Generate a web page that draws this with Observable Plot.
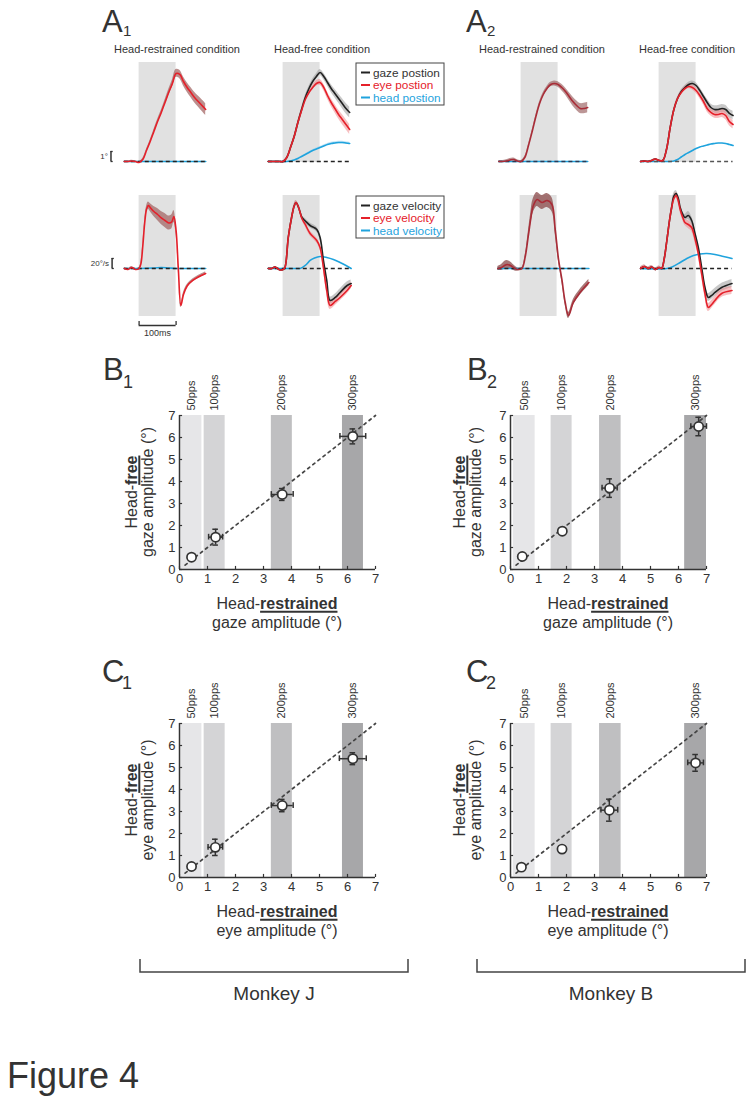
<!DOCTYPE html>
<html><head><meta charset="utf-8">
<script src="https://cdn.jsdelivr.net/npm/d3@7"></script>
<script src="https://cdn.jsdelivr.net/npm/@observablehq/plot@0.6"></script>
<style>
body{margin:0;background:#fff;}
#fig{position:relative;width:752px;height:1103px;overflow:hidden;background:#fff;}
svg{overflow:visible;}
</style></head>
<body><div id="fig"></div>
<script>
// ================= DATA =================
const stimWindow = [0, 100];                 // ms, stimulation train
// time grids (ms re. stimulation onset)
const tJ  = [-40,-30,-20,-10,0,10,20,30,40,50,60,70,80,90,100,110,120,130,140,150,160,170,180];
const tBR = [-60,-50,-40,-30,-20,-10,0,10,20,30,40,50,60,70,80,90,100,110,120,130,140,150,160,170,180];
const tBF = [-50,-40,-30,-20,-10,0,10,20,30,40,50,60,70,80,90,100,110,120,130,140,150,160,170,180,190,200];

// ---- Monkey J position (deg) ----
const posJR_eye  = [0,0,0.05,0,-0.1,0.2,1.1,2.0,3.0,4.0,4.9,5.9,6.9,7.8,8.8,8.7,8.0,7.4,6.9,6.4,6.0,5.6,5.2];
const posJR_sem  = [0.08,0.08,0.08,0.08,0.08,0.1,0.12,0.15,0.18,0.2,0.22,0.25,0.3,0.35,0.4,0.42,0.45,0.48,0.5,0.52,0.55,0.58,0.6];
const posJR_head = [0,0,0,0,0,0,0,0,0,0,0,0,0,0,0,0,0,0,0,0,0,0,0];
const posJF_gaze = [0,0,0,0,0,0.4,1.4,2.5,3.9,5.2,6.4,7.3,8.0,8.5,8.9,8.5,7.9,7.3,6.8,6.3,5.8,5.3,4.9];
const posJF_gsem = [0.05,0.05,0.05,0.05,0.05,0.08,0.1,0.12,0.15,0.18,0.2,0.22,0.25,0.28,0.3,0.33,0.36,0.4,0.43,0.46,0.5,0.53,0.55];
const posJF_eye  = [0,0,0,0,0,0.4,1.4,2.5,3.9,5.1,6.2,6.9,7.4,7.8,7.9,7.4,6.6,5.9,5.3,4.7,4.2,3.7,3.2];
const posJF_esem = [0.05,0.05,0.05,0.05,0.05,0.08,0.1,0.12,0.15,0.18,0.2,0.22,0.25,0.28,0.3,0.33,0.36,0.4,0.43,0.46,0.5,0.5,0.5];
const posJF_head = [0,0,0,0,0,0,0.05,0.15,0.3,0.5,0.7,0.9,1.1,1.25,1.4,1.55,1.7,1.8,1.85,1.9,1.9,1.85,1.8];
const posJF_hsem = [0,0,0,0,0,0,0.02,0.03,0.04,0.05,0.06,0.07,0.08,0.09,0.1,0.1,0.11,0.12,0.12,0.12,0.12,0.12,0.12];

// ---- Monkey B position (deg) ----
const posBR_gaze = [0,0,0.05,0.15,0.2,0.05,0,0.4,1.6,3.0,4.5,5.8,6.7,7.3,7.7,7.8,7.7,7.4,7.0,6.5,6.0,5.6,5.3,5.3,5.4];
const posBR_sem  = [0.1,0.1,0.12,0.15,0.15,0.12,0.1,0.1,0.12,0.15,0.15,0.18,0.2,0.2,0.22,0.25,0.28,0.32,0.36,0.4,0.44,0.48,0.5,0.52,0.52];
const posBR_head = [0,0,0,0,0,0,0,0,0,0,0,0,0,0,0,0,0,0,0,0,0,0,0,0,0];
const posBF_gaze = [0,0.05,0,0.1,0.25,0.1,0.1,1.2,3.4,5.2,6.3,7.0,7.4,7.7,7.8,7.6,7.1,6.5,5.9,5.4,5.2,5.2,5.3,5.2,4.8,4.6];
const posBF_gsem = [0.05,0.05,0.05,0.05,0.05,0.05,0.05,0.08,0.1,0.12,0.15,0.18,0.2,0.22,0.25,0.28,0.3,0.32,0.34,0.36,0.38,0.4,0.4,0.42,0.42,0.42];
const posBF_eye  = [0,0.05,0,0.1,0.25,0.1,0.1,1.2,3.4,5.2,6.3,6.9,7.3,7.5,7.4,7.1,6.6,6.0,5.3,4.9,4.7,4.7,4.8,4.6,4.0,3.7];
const posBF_esem = [0.05,0.05,0.05,0.05,0.05,0.05,0.05,0.08,0.1,0.12,0.15,0.18,0.2,0.22,0.25,0.28,0.3,0.32,0.34,0.36,0.38,0.4,0.4,0.42,0.42,0.42];
const posBF_head = [0,0,0,0,0,0,0,0,0,0.05,0.2,0.45,0.7,0.9,1.1,1.3,1.45,1.55,1.65,1.75,1.8,1.85,1.85,1.8,1.7,1.6];

// ---- Monkey J velocity (deg/s) ----
const velJR_t    = [-40,-30,-20,-10,0,5,10,15,20,25,30,40,50,60,70,80,88,94,100,106,113,120,130,145,160,180];
const velJR_eye  = [0,-2,2,-2,0,10,45,90,118,126,122,114,108,101,96,91,93,104,76,0,-74,-52,-35,-24,-17,-10];
const velJR_sem  = [2,2,2,2,2,3,4,5,6,7,8,10,12,13,14,14,14,12,8,4,4,4,3,3,3,3];
const velJR_ht   = [-40,0,40,60,80,100,140,180];
const velJR_head = [0,0,1,2,1,0,0,0];
const velJF_t    = [-40,-30,-22,-15,-8,0,5,14,23,30,35,42,51,60,73,91,100,109,118,127,141,154,173,184];
const velJF_gaze = [0,0,3,0,-3,-2,2,62,102,125,132,122,102,95,86,78,62,16,-24,-64,-58,-48,-34,-30];
const velJF_gsem = [1,1,1,1,1,1,1,2,3,4,4,4,4,5,5,5,5,5,6,7,7,7,7,7];
const velJF_eye  = [0,0,3,0,-3,-2,2,62,102,125,132,122,100,88,70,56,42,2,-44,-74,-66,-58,-44,-34];
const velJF_esem = [1,1,1,1,1,1,1,2,3,4,4,4,4,5,5,5,5,5,7,8,8,7,7,7];
const velJF_ht   = [-40,40,46,60,73,85,100,118,136,154,170,184];
const velJF_head = [0,0,0,6,16,21,24,22,18,12,6,0];

// ---- Monkey B velocity (deg/s) ----
const velBR_t    = [-60,-50,-42,-35,-26,-14,-5,5,14,22,29,35,46,59,73,86,95,104,113,122,131,144,162,186];
const velBR_gaze = [0,2,6,8,6,0,-2,0,24,64,100,124,138,132,136,128,78,18,-22,-68,-94,-68,-48,-28];
const velBR_sem  = [4,6,8,8,7,5,3,2,4,8,12,14,14,14,14,14,10,6,6,6,6,6,6,6];
const velBR_ht   = [-60,186];
const velBR_head = [0,0];
const velBF_t    = [-50,-40,-30,-20,-10,0,7,14,21,28,34,40,46,52,57,64,70,79,88,97,106,115,124,133,142,151,169,197];
const velBF_gaze = [0,4,0,3,-2,2,0,20,56,95,122,145,150,140,122,108,102,106,96,70,42,2,-38,-58,-54,-48,-38,-30];
const velBF_gsem = [3,3,3,3,3,3,2,2,3,4,5,6,6,6,6,6,6,8,8,8,8,8,8,8,8,8,8,8];
const velBF_eye  = [0,4,0,3,-2,2,0,20,56,95,122,140,146,135,118,102,92,88,82,60,30,-10,-50,-78,-72,-64,-50,-44];
const velBF_esem = [3,3,3,3,3,3,2,2,3,4,5,6,6,6,6,6,6,8,8,8,8,8,8,8,8,8,8,8];
const velBF_ht   = [-50,21,35,57,75,93,110,129,151,174,197];
const velBF_head = [0,0,3,12,20,26,29,30,28,24,20];

// scale bars
const posScaleBar = {t: -76, size: 1, label: "1°"};
const velScaleBar = {t: -73, size: 20, label: "20°/s"};
const timeScaleBar = {t0: 0, t1: 100, v: -114, label: "100ms"};

// ---- amplitude scatter panels ----
const axisTicks = [0,1,2,3,4,5,6,7];
const ppsLabels = ["50pps","100pps","200pps","300pps"];
const ppsFill   = ["#e6e6e8","#d4d4d6","#bfbfc1","#a7a7a9"];
const bandJ_x1 = [0.05,0.88,3.28,5.82], bandJ_x2 = [0.80,1.63,4.03,6.57];
const bandB_x1 = [0.10,1.45,3.18,6.22], bandB_x2 = [0.88,2.20,3.95,7.00];
const unityLine = [0.2, 7];
// B1: gaze, monkey J
const gazeJ_rx = [0.43,1.29,3.67,6.19], gazeJ_fy = [0.56,1.47,3.41,6.05];
const gazeJ_rxe = [0,0.25,0.39,0.46],   gazeJ_fye = [0,0.36,0.27,0.34];
// B2: gaze, monkey B
const gazeB_rx = [0.42,1.85,3.54,6.72], gazeB_fy = [0.59,1.74,3.70,6.50];
const gazeB_rxe = [0,0.10,0.27,0.28],   gazeB_fye = [0,0.08,0.42,0.42];
// C1: eye, monkey J
const eyeJ_rx = [0.43,1.28,3.67,6.19],  eyeJ_fy = [0.50,1.37,3.27,5.40];
const eyeJ_rxe = [0,0.26,0.39,0.48],    eyeJ_fye = [0,0.37,0.28,0.27];
// C2: eye, monkey B
const eyeB_rx = [0.39,1.84,3.53,6.61],  eyeB_fy = [0.47,1.29,3.06,5.21];
const eyeB_rxe = [0,0.08,0.30,0.28],    eyeB_fye = [0,0.08,0.50,0.38];

// ================= DRAWING =================
const FONT = '"Liberation Sans", Arial, Helvetica, sans-serif';
const TXT = "#333";
const C_GAZE = "#222", C_EYE = "#e5202a", C_HEAD = "#1fa3dd";
const fig = document.getElementById("fig");
function place(node, left, top) {
  const d = document.createElement("div");
  d.style.position = "absolute"; d.style.left = left + "px"; d.style.top = top + "px";
  d.appendChild(node); fig.appendChild(d);
}

const MS_PX = 0.37, T_DOM = [-80, 205];
const POS = {dom: [-1.5, 10.5], k: 10, box: [-0.1, 9.9]};
const VEL = {dom: [-140, 160], k: 0.5, box: [-96, 146]};

function zip(t, v, s) { return t.map((x, i) => ({t: x, v: v[i], e: s ? s[i] : 0})); }

function tracePanel({gx, base, kind, series, head, dashColor = "#222", extra = []}) {
  const cfg = kind === "pos" ? POS : VEL;
  const w = (T_DOM[1] - T_DOM[0]) * MS_PX, h = (cfg.dom[1] - cfg.dom[0]) * cfg.k;
  const marks = [Plot.rect([{t0: stimWindow[0], t1: stimWindow[1]}], {x1: "t0", x2: "t1", y1: cfg.box[0], y2: cfg.box[1], fill: "#e1e1e1"})];
  const all = [...series, head];
  for (const s of all) if (s.sem) {
    marks.push(Plot.areaY(zip(s.t, s.v, s.sem), {x: "t", y1: d => d.v - d.e, y2: d => d.v + d.e, curve: "catmull-rom", fill: s.band, fillOpacity: s.bandOpacity ?? 0.55}));
  }
  marks.push(Plot.line(zip(head.t, head.v), {x: "t", y: "v", curve: "catmull-rom", stroke: head.stroke, strokeWidth: 1.6}));
  const t0 = series[0].t[0], t1 = series[0].t[series[0].t.length - 1];
  marks.push(Plot.ruleY([0], {x1: t0, x2: t1, stroke: dashColor, strokeWidth: 1.4, strokeDasharray: "4,3"}));
  for (const s of series) marks.push(Plot.line(zip(s.t, s.v), {x: "t", y: "v", curve: "catmull-rom", stroke: s.stroke, strokeWidth: 1.6}));
  marks.push(...extra);
  const p = Plot.plot({
    width: w, height: h, margin: 0,
    x: {domain: T_DOM, axis: null}, y: {domain: cfg.dom, axis: null},
    style: {fontFamily: FONT, color: TXT, background: "none", overflow: "visible"},
    marks
  });
  place(p, gx + T_DOM[0] * MS_PX, base - cfg.dom[1] * cfg.k);
}

function bracketMarks(sb) {
  return [
    Plot.ruleX([sb], {x: "t", y1: 0, y2: "size", stroke: "#333", strokeWidth: 1.5}),
    Plot.ruleY([0, sb.size], {x1: sb.t, x2: sb.t + 6, y: d => d, stroke: "#333", strokeWidth: 1.3}),
    Plot.text([sb], {x: "t", y: d => d.size / 2, text: "label", textAnchor: "end", dx: -3, fontSize: 8, fill: TXT})
  ];
}
const timeBarMarks = [
  Plot.ruleY([timeScaleBar], {x1: "t0", x2: "t1", y: "v", stroke: "#333", strokeWidth: 1.4}),
  Plot.ruleX([timeScaleBar.t0, timeScaleBar.t1], {x: d => d, y1: timeScaleBar.v, y2: timeScaleBar.v + 8, stroke: "#333", strokeWidth: 1.3}),
  Plot.text([timeScaleBar], {x: d => (d.t0 + d.t1) / 2, y: "v", text: "label", lineAnchor: "top", dy: 4, fontSize: 9, fill: TXT})
];

// ---- Monkey J traces ----
tracePanel({gx: 139, base: 161, kind: "pos",
  series: [{t: tJ, v: posJR_eye, sem: posJR_sem, stroke: C_EYE, band: "#a0605e", bandOpacity: 0.7}],
  head: {t: tJ, v: posJR_head, stroke: C_HEAD}, extra: bracketMarks(posScaleBar)});
tracePanel({gx: 283, base: 161, kind: "pos",
  series: [{t: tJ, v: posJF_gaze, sem: posJF_gsem, stroke: C_GAZE, band: "#9a9a9a"},
           {t: tJ, v: posJF_eye, sem: posJF_esem, stroke: C_EYE, band: "#f08a8e"}],
  head: {t: tJ, v: posJF_head, sem: posJF_hsem, stroke: C_HEAD, band: "#8fd0f0"}});
tracePanel({gx: 139, base: 268, kind: "vel",
  series: [{t: velJR_t, v: velJR_eye, sem: velJR_sem, stroke: C_EYE, band: "#a0605e", bandOpacity: 0.7}],
  head: {t: velJR_ht, v: velJR_head, stroke: C_HEAD}, extra: [...bracketMarks(velScaleBar), ...timeBarMarks]});
tracePanel({gx: 283, base: 268, kind: "vel",
  series: [{t: velJF_t, v: velJF_gaze, sem: velJF_gsem, stroke: C_GAZE, band: "#9a9a9a"},
           {t: velJF_t, v: velJF_eye, sem: velJF_esem, stroke: C_EYE, band: "#f08a8e"}],
  head: {t: velJF_ht, v: velJF_head, stroke: C_HEAD}});

// ---- Monkey B traces ----
tracePanel({gx: 521, base: 161, kind: "pos",
  series: [{t: tBR, v: posBR_gaze, sem: posBR_sem, stroke: "#a92c37", band: "#a06a6a", bandOpacity: 0.7}],
  head: {t: tBR, v: posBR_head, stroke: C_HEAD}, dashColor: "#2a3a55"});
tracePanel({gx: 659, base: 161, kind: "pos",
  series: [{t: tBF, v: posBF_gaze, sem: posBF_gsem, stroke: C_GAZE, band: "#9a9a9a"},
           {t: tBF, v: posBF_eye, sem: posBF_esem, stroke: C_EYE, band: "#f08a8e"}],
  head: {t: tBF, v: posBF_head, stroke: C_HEAD}, dashColor: "#555"});
tracePanel({gx: 520, base: 268, kind: "vel",
  series: [{t: velBR_t, v: velBR_gaze, sem: velBR_sem, stroke: "#a92c37", band: "#8a4848", bandOpacity: 0.75}],
  head: {t: velBR_ht, v: velBR_head, stroke: C_HEAD}});
tracePanel({gx: 659, base: 268, kind: "vel",
  series: [{t: velBF_t, v: velBF_gaze, sem: velBF_gsem, stroke: C_GAZE, band: "#9a9a9a"},
           {t: velBF_t, v: velBF_eye, sem: velBF_esem, stroke: C_EYE, band: "#f08a8e"}],
  head: {t: velBF_ht, v: velBF_head, stroke: C_HEAD}});

// ---- scatter panels ----
function scatterPanel({x0, y0, bx1, bx2, rx, fy, rxe, fye}) {
  const ux = 28, uy = 22, mL = 50, mR = 20, mT = 60, mB = 30;
  const bands = ppsLabels.map((l, i) => ({label: l, x1: bx1[i], x2: bx2[i], fill: ppsFill[i]}));
  const pts = rx.map((x, i) => ({x, y: fy[i], ex: rxe[i], ey: fye[i]}));
  const bars = pts.filter(d => d.ex > 0 || d.ey > 0);
  const capX = 0.1, capY = 0.13;
  const stroke = "#333";
  const marks = [
    ...bands.map(b => Plot.rect([b], {x1: "x1", x2: "x2", y1: 0, y2: 7, fill: b.fill})),
    Plot.text(bands, {x: d => (d.x1 + d.x2) / 2, y: 7, text: "label", rotate: -90, textAnchor: "start", dy: -5, fontSize: 11, fill: TXT}),
    Plot.line(unityLine.map(v => ({v})), {x: "v", y: "v", stroke: "#444", strokeWidth: 1.7, strokeDasharray: "2.5,4"}),
    Plot.ruleX([0], {y1: 0, y2: 7, stroke, strokeWidth: 1.5}),
    Plot.ruleY([0], {x1: 0, x2: 7, stroke, strokeWidth: 1.5}),
    Plot.ruleX(axisTicks, {x: d => d, y1: 0, y2: 0.14, stroke, strokeWidth: 1.2}),
    Plot.ruleY(axisTicks, {y: d => d, x1: 0, x2: 0.11, stroke, strokeWidth: 1.2}),
    Plot.ruleX(bars, {x: "x", y1: d => d.y - d.ey, y2: d => d.y + d.ey, stroke, strokeWidth: 1.5}),
    Plot.ruleY(bars, {y: "y", x1: d => d.x - d.ex, x2: d => d.x + d.ex, stroke, strokeWidth: 1.5}),
    Plot.ruleY(bars.flatMap(d => [d.y - d.ey, d.y + d.ey].map(y => ({x: d.x, y}))), {y: "y", x1: d => d.x - capX, x2: d => d.x + capX, stroke, strokeWidth: 1.5}),
    Plot.ruleX(bars.flatMap(d => [d.x - d.ex, d.x + d.ex].map(x => ({x, y: d.y}))), {x: "x", y1: d => d.y - capY, y2: d => d.y + capY, stroke, strokeWidth: 1.5}),
    Plot.dot(pts, {x: "x", y: "y", r: 4.6, fill: "white", stroke, strokeWidth: 1.7})
  ];
  const p = Plot.plot({
    width: mL + 7 * ux + mR, height: mT + 7 * uy + mB,
    marginLeft: mL, marginRight: mR, marginTop: mT, marginBottom: mB,
    x: {domain: [0, 7], ticks: axisTicks, tickSize: 0, tickPadding: 4, label: null, tickFormat: d => d},
    y: {domain: [0, 7], ticks: axisTicks, tickSize: 0, tickPadding: 4, label: null, tickFormat: d => d},
    style: {fontFamily: FONT, fontSize: "13px", color: TXT, background: "none", overflow: "visible"},
    marks
  });
  place(p, x0 - mL, y0 - 7 * uy - mT);
}
scatterPanel({x0: 179, y0: 569, bx1: bandJ_x1, bx2: bandJ_x2, rx: gazeJ_rx, fy: gazeJ_fy, rxe: gazeJ_rxe, fye: gazeJ_fye});
scatterPanel({x0: 510, y0: 569, bx1: bandB_x1, bx2: bandB_x2, rx: gazeB_rx, fy: gazeB_fy, rxe: gazeB_rxe, fye: gazeB_fye});
scatterPanel({x0: 179, y0: 877, bx1: bandJ_x1, bx2: bandJ_x2, rx: eyeJ_rx, fy: eyeJ_fy, rxe: eyeJ_rxe, fye: eyeJ_fye});
scatterPanel({x0: 510, y0: 877, bx1: bandB_x1, bx2: bandB_x2, rx: eyeB_rx, fy: eyeB_fy, rxe: eyeB_rxe, fye: eyeB_fye});

// ================= TEXT OVERLAY =================
const ov = d3.select(fig).append("svg").attr("width", 752).attr("height", 1103)
  .style("position", "absolute").style("left", "0px").style("top", "0px")
  .style("font-family", FONT).style("pointer-events", "none");
function txt(x, y, s, {size = 12, anchor = "start", fill = TXT, rotate = 0} = {}) {
  return ov.append("text").attr("transform", `translate(${x},${y}) rotate(${rotate})`)
    .attr("text-anchor", anchor).attr("font-size", size).attr("fill", fill).text(s);
}
// text with bold + thick underline parts
function rich(x, y, parts, {size = 16, anchor = "middle", rotate = 0} = {}) {
  const g = ov.append("g").attr("transform", `translate(${x},${y}) rotate(${rotate})`);
  const t = g.append("text").attr("text-anchor", anchor).attr("font-size", size).attr("fill", TXT);
  let idx = 0; const ul = [];
  for (const p of parts) {
    const ts = t.append("tspan").text(p.t);
    if (p.b) ts.attr("font-weight", "bold");
    if (p.u) ul.push([idx, p.t.length]);
    idx += p.t.length;
  }
  const node = t.node();
  for (const [i, n] of ul) {
    const s = node.getStartPositionOfChar(i).x;
    const e = node.getEndPositionOfChar(i + n - 1).x;
    g.append("line").attr("x1", s).attr("x2", e).attr("y1", 2.8).attr("y2", 2.8)
      .attr("stroke", TXT).attr("stroke-width", 2);
  }
}
// panel letters
function letter(x, y, L, n, subY) {
  txt(x, y, L, {size: 31});
  txt(x + (L === "A" ? 21 : 20), subY, n, {size: L === "A" ? 15 : 18});
}
letter(102, 32, "A", "1", 36); letter(466, 32, "A", "2", 36);
letter(103, 380, "B", "1", 388); letter(467, 380, "B", "2", 388);
letter(102, 682, "C", "1", 689); letter(466, 682, "C", "2", 689);

// condition titles
[[177, "Head-restrained condition"], [322, "Head-free condition"], [542, "Head-restrained condition"], [687, "Head-free condition"]]
  .forEach(([x, s]) => txt(x, 53, s, {size: 11, anchor: "middle"}));

// legends
function legend(x, y, rows) {
  ov.append("rect").attr("x", x).attr("y", y).attr("width", 88).attr("height", 42)
    .attr("fill", "white").attr("stroke", "#444").attr("stroke-width", 1);
  rows.forEach(([label, color], i) => {
    const yy = y + 9.5 + i * 12.5;
    ov.append("line").attr("x1", x + 5).attr("x2", x + 14).attr("y1", yy).attr("y2", yy).attr("stroke", color).attr("stroke-width", 2);
    txt(x + 17, yy + 4, label, {size: 11.8, fill: color === C_GAZE ? TXT : color});
  });
}
legend(356, 63, [["gaze postion", C_GAZE], ["eye postion", C_EYE], ["head postion", C_HEAD]]);
legend(356, 196, [["gaze velocity", C_GAZE], ["eye velocity", C_EYE], ["head velocity", C_HEAD]]);

// axis titles of scatter panels
function axisTitles(cx, xb, ylx, cy, kind) {
  rich(cx, xb, [{t: "Head-"}, {t: "restrained", b: true, u: true}]);
  rich(cx, xb + 19, [{t: kind + " amplitude (°)"}]);
  rich(ylx, cy, [{t: "Head-"}, {t: "free", b: true, u: true}], {rotate: -90});
  rich(ylx + 16, cy, [{t: kind + " amplitude (°)"}], {rotate: -90});
}
axisTitles(277, 609, 136.5, 492, "gaze");
axisTitles(608, 609, 464.5, 492, "gaze");
axisTitles(277, 917, 136.5, 800, "eye");
axisTitles(608, 917, 464.5, 800, "eye");

// monkey brackets
[[140, 408, "Monkey J"], [477, 745, "Monkey B"]].forEach(([a, b, s]) => {
  ov.append("path").attr("d", `M${a},959V972H${b}V959`).attr("fill", "none").attr("stroke", "#444").attr("stroke-width", 1.5);
  txt((a + b) / 2, 1000, s, {size: 19, anchor: "middle"});
});
txt(7, 1088, "Figure 4", {size: 36});
</script></body></html>
